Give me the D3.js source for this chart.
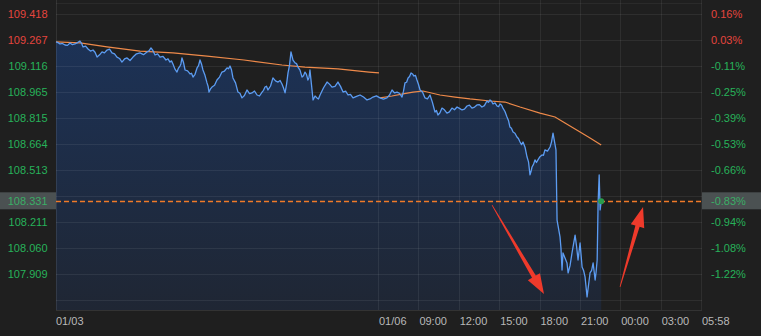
<!DOCTYPE html>
<html>
<head>
<meta charset="utf-8">
<script src="https://cdn.jsdelivr.net/npm/d3@7"></script>
<style>
    body { margin: 0; background: #1f1f1f; overflow: hidden; }
    svg { display: block; font-family: 'Liberation Sans', Arial, sans-serif; }
</style>
</head>
<body>
<script>
// price axis (left) and change axis (right)
const priceTicks = [109.418, 109.267, 109.116, 108.965, 108.815, 108.664, 108.513, 108.362, 108.211, 108.060, 107.909, 107.758]
const priceLabels = ['109.418', '109.267', '109.116', '108.965', '108.815', '108.664', '108.513', '108.362', '108.211', '108.060', '107.909']
const pctLabels = ['0.16%', '0.03%', '-0.11%', '-0.25%', '-0.39%', '-0.53%', '-0.66%', '-0.80%', '-0.94%', '-1.08%', '-1.22%']
const prevClose = 109.24

// time axis, hours from the start of the chart (01/03 squeezed into the first 24)
const timeTicks = [0, 24, 27, 30, 33, 36, 39, 42, 45, 48]
const timeLabels = ['01/03', '01/06', '09:00', '12:00', '15:00', '18:00', '21:00', '00:00', '03:00', '05:58']
const gridHours = [24, 27, 30, 33, 36, 39, 42, 45, 48]

// price line, main turning points
const priceHours = [0, 0.30, 0.67, 1.04, 1.41, 1.78, 2.01, 2.38, 2.75, 3.05, 3.42, 3.79, 4.16, 4.53, 4.90, 5.28, 5.72, 6.24, 6.76, 7.06,
    7.36, 7.73, 8.17, 8.47, 8.69, 8.99, 9.21, 9.36, 9.59, 9.96, 10.18, 10.48, 10.70, 10.92, 11.22, 11.37, 11.59, 11.96, 12.33, 12.71,
    12.93, 13.15, 13.52, 13.82, 14.19, 14.56, 14.94, 15.31, 15.53, 15.75, 16.12, 16.50, 16.79, 17.02, 17.24, 17.46, 17.76, 17.98, 18.28, 18.50,
    18.72, 18.87, 19.10, 19.39, 19.62, 20.14, 20.51, 20.95, 21.33, 21.70, 22.07, 22.59, 23.11, 23.55, 24.07, 24.59, 24.97, 25.34, 25.71, 25.93,
    26.16, 26.38, 26.60, 26.82, 27.05, 27.42, 27.79, 28.16, 28.38, 28.68, 29.05, 29.42, 29.80, 30.17, 30.54, 30.91, 31.28, 31.65, 32.02, 32.25,
    32.47, 32.77, 32.99, 33.21, 33.51, 33.73, 33.96, 34.25, 34.48, 34.70, 35.00, 35.22, 35.37, 35.59, 35.81, 36.11, 36.33, 36.71, 36.93, 37.15,
    37.23, 37.45, 37.60, 37.67, 37.97, 38.05, 38.34, 38.57, 38.79, 38.94, 39.09, 39.31, 39.46, 39.68, 39.91, 40.06, 40.21, 40.28, 40.36, 40.43,
    40.51]
const prices = [109.256, 109.244, 109.238, 109.250, 109.244, 109.261, 109.227, 109.215, 109.209, 109.168, 109.198, 109.209, 109.192, 109.168, 109.139, 109.163, 109.168, 109.192, 109.198, 109.221,
    109.180, 109.168, 109.151, 109.139, 109.128, 109.081, 109.116, 109.163, 109.093, 109.070, 109.052, 109.105, 109.151, 109.093, 109.018, 108.965, 108.994, 109.035, 109.081, 109.105,
    109.116, 109.047, 108.965, 108.931, 108.977, 108.960, 108.948, 108.965, 108.994, 108.977, 109.047, 109.023, 109.012, 108.960, 109.076, 109.198, 109.134, 109.110, 109.052, 109.081,
    109.035, 109.093, 108.919, 108.931, 108.948, 109.023, 108.994, 109.023, 108.965, 108.948, 108.931, 108.948, 108.919, 108.936, 108.931, 108.931, 108.977, 108.965, 108.936, 109.018,
    109.047, 109.076, 109.058, 109.035, 108.977, 108.931, 108.948, 108.849, 108.832, 108.872, 108.843, 108.872, 108.878, 108.861, 108.884, 108.872, 108.890, 108.878, 108.913, 108.919,
    108.896, 108.884, 108.896, 108.872, 108.820, 108.762, 108.733, 108.704, 108.675, 108.675, 108.588, 108.484, 108.530, 108.571, 108.571, 108.600, 108.629, 108.646, 108.727, 108.629,
    108.222, 108.124, 107.932, 108.031, 107.973, 107.915, 108.031, 108.135, 107.990, 108.089, 107.950, 107.892, 107.776, 107.915, 107.973, 107.874, 107.990, 108.321, 108.484, 108.281,
    108.331]

// price line, the small wiggles between the turning points
const wiggleHours = [0.15, 0.48, 0.85, 1.22, 1.60, 1.90, 2.20, 2.56, 2.90, 3.24, 3.60, 3.98, 4.35, 4.72, 5.09, 5.50, 5.98, 6.50, 6.91, 7.21,
    7.55, 7.95, 8.32, 8.58, 8.84, 9.10, 9.28, 9.48, 9.78, 10.07, 10.33, 10.59, 10.81, 11.07, 11.30, 11.48, 11.78, 12.15, 12.52, 12.82,
    13.04, 13.34, 13.67, 14.00, 14.38, 14.75, 15.12, 15.42, 15.64, 15.94, 16.31, 16.65, 16.90, 17.13, 17.35, 17.61, 17.87, 18.13, 18.39, 18.61,
    18.80, 18.98, 19.25, 19.50, 19.88, 20.32, 20.73, 21.14, 21.52, 21.88, 22.33, 22.85, 23.33, 23.81, 24.33, 24.78, 25.15, 25.52, 25.82, 26.05,
    26.27, 26.49, 26.71, 26.93, 27.23, 27.60, 27.97, 28.27, 28.53, 28.86, 29.23, 29.61, 29.98, 30.35, 30.72, 31.10, 31.46, 31.83, 32.13, 32.36,
    32.62, 32.88, 33.10, 33.36, 33.62, 33.84, 34.10, 34.36, 34.59, 34.85, 35.11, 35.30, 35.48, 35.70, 35.96, 36.22, 36.52, 36.82, 37.52, 38.20,
    38.68, 39.20, 39.80, 40.13]
const wigglePrices = [109.252, 109.247, 109.236, 109.240, 109.252, 109.248, 109.232, 109.203, 109.196, 109.181, 109.192, 109.214, 109.186, 109.160, 109.157, 109.148, 109.187, 109.182, 109.204, 109.205,
    109.186, 109.172, 109.158, 109.146, 109.098, 109.104, 109.128, 109.135, 109.088, 109.074, 109.068, 109.118, 109.128, 109.062, 108.999, 108.983, 109.004, 109.052, 109.087, 109.100,
    109.094, 109.018, 108.958, 108.945, 108.956, 108.971, 108.942, 108.975, 108.999, 109.000, 109.030, 109.032, 108.990, 109.010, 109.120, 109.150, 109.130, 109.092, 109.060, 109.068,
    109.050, 109.010, 108.942, 108.925, 108.990, 109.011, 108.998, 108.998, 108.970, 108.952, 108.940, 108.936, 108.925, 108.943, 108.924, 108.948, 108.960, 108.958, 108.970, 109.022,
    109.055, 109.070, 109.062, 109.010, 108.965, 108.925, 108.905, 108.858, 108.845, 108.862, 108.850, 108.862, 108.870, 108.866, 108.889, 108.878, 108.892, 108.886, 108.905, 108.912,
    108.902, 108.880, 108.890, 108.852, 108.800, 108.755, 108.726, 108.695, 108.660, 108.645, 108.560, 108.505, 108.545, 108.556, 108.590, 108.598, 108.622, 108.676, 108.060, 107.960,
    108.070, 107.930, 107.930, 107.920]

// average price, one line per session
const avgHours1 = [0, 1.78, 3.79, 6.24, 8.69, 11.22, 13.97, 16.79, 18.50, 20.95, 23.26, 24.0]
const avgPrices1 = [109.256, 109.250, 109.227, 109.203, 109.192, 109.174, 109.151, 109.122, 109.110, 109.099, 109.081, 109.076]
const avgHours2 = [24.07, 24.97, 25.78, 26.53, 27.27, 28.53, 29.65, 30.76, 32.25, 33.36, 34.48, 35.96, 37.08, 37.82, 38.94, 39.68, 40.51]
const avgPrices2 = [108.931, 108.942, 108.954, 108.965, 108.971, 108.948, 108.936, 108.925, 108.913, 108.907, 108.878, 108.843, 108.820, 108.785, 108.733, 108.698, 108.658]

const lastPrice = 108.331
const lastPct = '-0.83%'

// red arrows: [fromHour, fromPrice, toHour, toPrice]
const arrows = [[32.40, 108.309, 36.26, 107.793], [41.91, 107.834, 43.62, 108.298]]

var width = 761, height = 336
var plot = { left: 56, right: 702, top: 14, bottom: 310 }

var svg = d3.select('body')
    .append('svg')
    .attr('width', width)
    .attr('height', height)

var x = d3.scaleLinear().domain([0, 48]).range([plot.left, plot.right])
var y = d3.scaleLinear().domain([107.909, 109.418]).range([274, 14])

var pricePoints = priceHours.map((h, i) => [h, prices[i]])
    .concat(wiggleHours.map((h, i) => [h, wigglePrices[i]]))
    .sort((a, b) => a[0] - b[0])

function labelColor(v) {
    return v > prevClose ? '#e5453e' : '#27b25a'
}

// labels under the current price box are not shown
function hiddenByBox(v) {
    return Math.abs(y(v) - y(lastPrice)) < 9
}

function makeArea() {
    var defs = svg.append('defs')
    var grad = defs.append('linearGradient')
        .attr('id', 'fillGrad')
        .attr('x1', 0).attr('y1', 0).attr('x2', 0).attr('y2', 1)
    grad.append('stop').attr('offset', '0%').attr('stop-color', '#1c345c').attr('stop-opacity', 0.9)
    grad.append('stop').attr('offset', '100%').attr('stop-color', '#1f2736').attr('stop-opacity', 0.9)

    var area = d3.area()
        .x(d => x(d[0]))
        .y0(plot.bottom)
        .y1(d => y(d[1]))
    svg.append('path')
        .datum(pricePoints)
        .attr('d', area)
        .attr('fill', 'url(#fillGrad)')
}

function makeGrid() {
    var g = svg.append('g').attr('class', 'grid')
    g.selectAll('.hgrid')
        .data(priceTicks)
        .enter()
        .append('line')
        .attr('x1', plot.left).attr('x2', plot.right)
        .attr('y1', d => Math.round(y(d)) + 0.5)
        .attr('y2', d => Math.round(y(d)) + 0.5)
        .attr('stroke', '#ffffff')
        .attr('stroke-opacity', 0.07)
    g.selectAll('.vgrid')
        .data(gridHours)
        .enter()
        .append('line')
        .attr('x1', d => Math.round(x(d)) - 0.5)
        .attr('x2', d => Math.round(x(d)) - 0.5)
        .attr('y1', 0).attr('y2', plot.bottom)
        .attr('stroke', '#ffffff')
        .attr('stroke-opacity', 0.07)
    // frame
    g.append('line')
        .attr('x1', plot.left + 0.5).attr('x2', plot.left + 0.5)
        .attr('y1', 0).attr('y2', plot.bottom)
        .attr('stroke', '#ffffff').attr('stroke-opacity', 0.09)
    g.append('line')
        .attr('x1', plot.left).attr('x2', plot.right)
        .attr('y1', 3.5).attr('y2', 3.5)
        .attr('stroke', '#ffffff').attr('stroke-opacity', 0.05)
    g.append('line')
        .attr('x1', plot.left).attr('x2', plot.right)
        .attr('y1', plot.bottom + 0.5).attr('y2', plot.bottom + 0.5)
        .attr('stroke', '#ffffff').attr('stroke-opacity', 0.09)
}

function makeLines() {
    var line = d3.line().x(d => x(d[0])).y(d => y(d[1]))

    svg.append('path')
        .datum(avgHours1.map((h, i) => [h, avgPrices1[i]]))
        .attr('d', line)
        .attr('fill', 'none')
        .attr('stroke', '#ef8a4a')
        .attr('stroke-width', 1.2)
    svg.append('path')
        .datum(avgHours2.map((h, i) => [h, avgPrices2[i]]))
        .attr('d', line)
        .attr('fill', 'none')
        .attr('stroke', '#ef8a4a')
        .attr('stroke-width', 1.2)

    svg.append('path')
        .datum(pricePoints)
        .attr('d', line)
        .attr('fill', 'none')
        .attr('stroke', '#5c9cf2')
        .attr('stroke-width', 1.3)
        .attr('stroke-linejoin', 'round')

    // current price dashed line
    var cy = Math.round(y(lastPrice))
    svg.append('rect')
        .attr('x', plot.left).attr('y', cy)
        .attr('width', plot.right - plot.left).attr('height', 1)
        .attr('fill', 'none')
    svg.append('line')
        .attr('x1', plot.left).attr('x2', plot.right)
        .attr('y1', cy + 0.5).attr('y2', cy + 0.5)
        .attr('stroke', '#f07a28')
        .attr('stroke-width', 1.3)
        .attr('stroke-dasharray', '5,3')

    svg.append('circle')
        .attr('cx', x(priceHours[priceHours.length - 1]))
        .attr('cy', y(lastPrice))
        .attr('r', 3)
        .attr('fill', '#2a9d4c')
}

function makeArrows() {
    arrows.forEach(function (a) {
        var x1 = x(a[0]), y1 = y(a[1]), x2 = x(a[2]), y2 = y(a[3])
        var dx = x2 - x1, dy = y2 - y1
        var len = Math.sqrt(dx * dx + dy * dy)
        var ux = dx / len, uy = dy / len
        var nx = -uy, ny = ux
        var headLen = 20, headW = 7, shaftEnd = 2.2
        var bx = x2 - ux * headLen, by = y2 - uy * headLen
        var pts = [
            [x1 + nx * 0.4, y1 + ny * 0.4],
            [bx + nx * shaftEnd, by + ny * shaftEnd],
            [bx + nx * headW, by + ny * headW],
            [x2, y2],
            [bx - nx * headW, by - ny * headW],
            [bx - nx * shaftEnd, by - ny * shaftEnd],
            [x1 - nx * 0.4, y1 - ny * 0.4]
        ]
        svg.append('path')
            .attr('d', 'M' + pts.map(p => p.join(',')).join('L') + 'Z')
            .attr('fill', '#ee3a2b')
    })
}

function makeAxes() {
    var shown = priceLabels.map((d, i) => i).filter(i => !hiddenByBox(priceTicks[i]))

    // left price labels
    svg.selectAll('.price-label')
        .data(shown)
        .enter()
        .append('text')
        .attr('class', 'price-label')
        .attr('x', 47.5)
        .attr('y', i => y(priceTicks[i]) + 4)
        .attr('text-anchor', 'end')
        .attr('font-size', 11)
        .attr('fill', i => labelColor(priceTicks[i]))
        .text(i => priceLabels[i])

    // right change labels
    svg.selectAll('.pct-label')
        .data(shown)
        .enter()
        .append('text')
        .attr('class', 'pct-label')
        .attr('x', 711)
        .attr('y', i => y(priceTicks[i]) + 4)
        .attr('font-size', 11)
        .attr('fill', i => labelColor(priceTicks[i]))
        .text(i => pctLabels[i])

    // current price boxes
    var cy = y(lastPrice)
    svg.append('rect')
        .attr('x', 0).attr('y', cy - 9)
        .attr('width', plot.left).attr('height', 17)
        .attr('fill', '#4b5152')
    svg.append('text')
        .attr('x', 47.5).attr('y', cy + 4)
        .attr('text-anchor', 'end')
        .attr('font-size', 11)
        .attr('fill', '#3aae66')
        .text(lastPrice.toFixed(3))
    svg.append('rect')
        .attr('x', plot.right).attr('y', cy - 9)
        .attr('width', width - plot.right).attr('height', 17)
        .attr('fill', '#4b5152')
    svg.append('text')
        .attr('x', 711).attr('y', cy + 4)
        .attr('font-size', 11)
        .attr('fill', '#3aae66')
        .text(lastPct)

    // time labels
    svg.selectAll('.time-label')
        .data(timeLabels)
        .enter()
        .append('text')
        .attr('class', 'time-label')
        .attr('x', (d, i) => x(timeTicks[i]))
        .attr('y', 325)
        .attr('font-size', 11)
        .attr('fill', '#b9b9b9')
        .text(d => d)
}

makeArea()
makeGrid()
makeLines()
makeArrows()
makeAxes()
</script>
</body>
</html>
